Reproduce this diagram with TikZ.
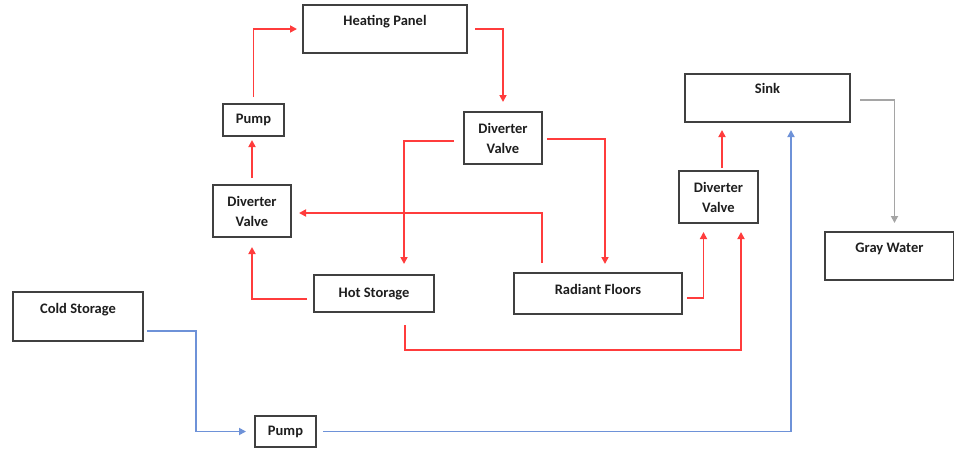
\documentclass[tikz,border=0pt]{standalone}
\usepackage{fontspec}
\setmainfont{Carlito}
\usetikzlibrary{arrows.meta,calc}
\definecolor{lred}{RGB}{255,60,60}
\definecolor{lblue}{RGB}{110,146,216}
\definecolor{lgray}{RGB}{165,165,165}
\definecolor{boxc}{RGB}{64,64,64}
\definecolor{txt}{RGB}{30,30,30}
\begin{document}
\begin{tikzpicture}[x=1pt,y=-1pt,
  box/.style={draw=boxc, line width=2pt, fill=white, anchor=north west,
    font=\bfseries\fontsize{14.5}{20}\selectfont, text=txt, align=center, inner sep=0pt},
  topbox/.style 2 args={text height=#1, text depth=#2},
  conn/.style={line width=1.7pt, -{Triangle[length=7pt,width=7pt]}},
  redc/.style={conn, draw=lred},
  bluec/.style={conn, draw=lblue},
  grayc/.style={conn, draw=lgray}]
\useasboundingbox (0,0) rectangle (954,448);
% boxes
\node[box, topbox={20pt}{28pt}, minimum width=164pt] (hp) at (302,4) {Heating Panel};
\node[box, minimum width=61pt, minimum height=32pt] (pump1) at (222,103) {Pump};
\node[box, minimum width=78pt, minimum height=52pt] (dv1) at (463,111) {Diverter\\Valve};
\node[box, minimum width=78pt, minimum height=52pt] (dv2) at (212,184) {Diverter\\Valve};
\node[box, minimum width=120pt, minimum height=37pt] (hs) at (313,274) {Hot Storage};
\node[box, topbox={21.5pt}{19.5pt}, minimum width=168pt] (rf) at (513,272) {Radiant Floors};
\node[box, topbox={19.5pt}{28.5pt}, minimum width=165pt] (sink) at (684,73) {Sink};
\node[box, minimum width=79pt, minimum height=52pt] (dv3) at (678,170) {Diverter\\Valve};
\node[box, topbox={20pt}{28pt}, minimum width=129pt] (gw) at (824,231) {Gray Water};
\node[box, topbox={21pt}{28pt}, minimum width=130pt] (cs) at (12,291) {Cold Storage};
\node[box, minimum width=61pt, minimum height=31pt] (pump2) at (254,415) {Pump};
% helper coordinates
\coordinate (c8) at (0,350);
\coordinate (kb) at (196,0);
\coordinate (d3) at ([xshift=22.5pt]dv3.south);
% red connectors
\draw[redc, shorten <=7pt, shorten >=9pt] (hp.east) -| (dv1.north);
\draw[redc, shorten <=6pt, shorten >=5pt] (pump1.north) |- (hp.west);
\draw[redc, shorten <=6pt, shorten >=3pt] (dv2.north) -- (dv2.north |- pump1.south);
\draw[redc, shorten <=9pt, shorten >=10pt] ([yshift=-3pt]dv1.west) -| ([xshift=30pt]hs.north);
\draw[redc, shorten <=4pt, shorten >=8pt] ([yshift=-1pt]dv1.east) -| ([xshift=7pt]rf.north);
\draw[redc, shorten <=9pt, shorten >=7pt] ([xshift=-56pt]rf.north) |- ([yshift=-2pt]dv2.east);
\draw[redc, shorten <=6pt, shorten >=9pt] ([yshift=-5.5pt]hs.west) -| (dv2.south);
\draw[redc, shorten <=12pt, shorten >=8pt] ([xshift=31pt]hs.south) |- (c8 -| d3) -- (d3);
\draw[redc, shorten <=4pt, shorten >=8pt] ([yshift=-4.5pt]rf.east) -| ([xshift=-15pt]dv3.south);
\draw[redc, shorten <=2pt, shorten >=7pt] ([xshift=3.5pt]dv3.north) -- ([xshift=3.5pt]dv3.north |- sink.south);
% gray connector
\draw[grayc, shorten <=9pt, shorten >=8pt] ([yshift=-2pt]sink.east) -| ([xshift=5pt]gw.north);
% blue connectors
\draw[bluec, shorten <=3pt, shorten >=8pt] ([yshift=-14.5pt]cs.east) coordinate (a12) -- (a12 -| kb) |- (pump2.west);
\draw[bluec, shorten <=6pt, shorten >=7pt] (pump2.east) -| ([xshift=23.5pt]sink.south);
\end{tikzpicture}
\end{document}
